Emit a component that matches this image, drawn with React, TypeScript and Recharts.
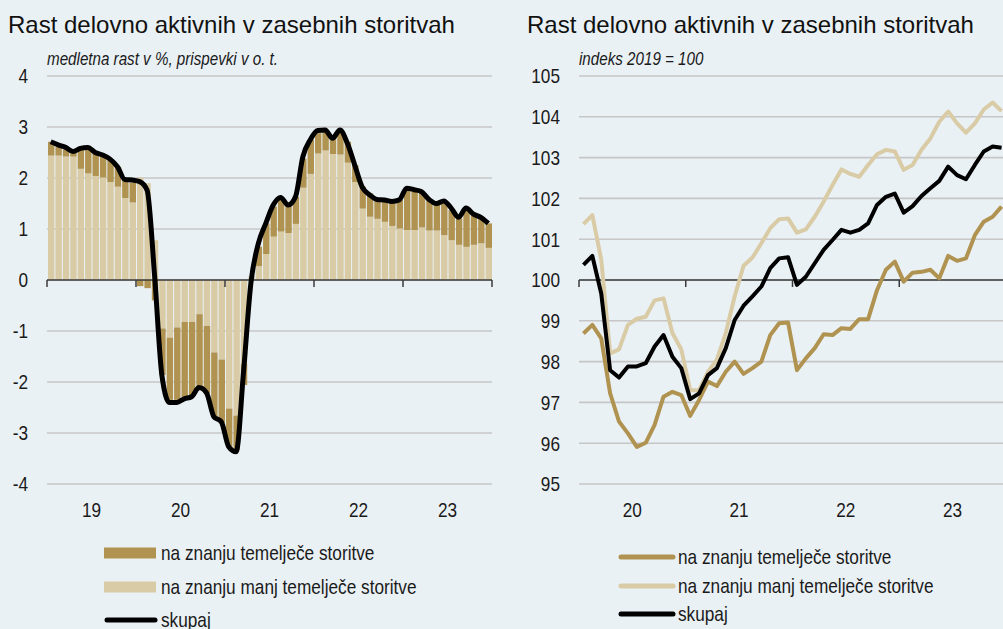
import { ComposedChart, LineChart, Bar, Line, XAxis, YAxis, CartesianGrid, ReferenceLine } from 'recharts'

const BG = '#EAF1F5'
const DARK = '#B09350'
const LIGHT = '#D9CBA5'
const AXIS = '#3a3a3a'
const GRID = '#c6c6c6'
const FONT = "'Liberation Sans', Arial, sans-serif"
const SQUEEZE = 0.82 // originalni graf uporablja ozko pisavo

const title = 'Rast delovno aktivnih v zasebnih storitvah'

// levi graf: medletna rast, mesečno jan 2019 - dec 2023
const growthYears = ['19', '20', '21', '22', '23']
const lessKnowledgeContrib = [
  2.44, 2.44, 2.42, 2.42, 2.18, 2.09, 2.04, 2.01, 1.92, 1.83, 1.61, 1.52,
  2.01, 1.9, 0.78, -0.95, -1.13, -0.93, -0.82, -0.82, -0.67, -0.9, -1.42, -1.56,
  -2.52, -2.66, -1.65, 0.07, 0.27, 0.51, 0.85, 0.95, 0.92, 1.1, 1.81, 2.08,
  2.48, 2.54, 2.47, 2.46, 2.3, 1.92, 1.4, 1.24, 1.2, 1.14, 1.06, 1.01,
  0.98, 0.98, 1.03, 0.97, 0.97, 0.88, 0.78, 0.69, 0.65, 0.69, 0.72, 0.63,
]
const knowledgeContrib = [
  0.27, 0.17, 0.14, 0.1, 0.4, 0.52, 0.44, 0.44, 0.45, 0.39, 0.37, 0.39,
  -0.12, -0.16, -0.4, -0.91, -1.22, -1.42, -1.48, -1.45, -1.45, -1.32, -1.26, -1.25,
  -0.75, -0.67, -0.41, 0, 0.38, 0.6, 0.59, 0.62, 0.55, 0.53, 0.57, 0.67,
  0.4, 0.39, 0.34, 0.45, 0.41, 0.33, 0.43, 0.46, 0.4, 0.44, 0.48, 0.56,
  0.78, 0.77, 0.68, 0.6, 0.53, 0.66, 0.59, 0.52, 0.76, 0.58, 0.51, 0.48,
]
const totalGrowth = [
  2.71, 2.65, 2.6, 2.52, 2.58, 2.6, 2.5, 2.45, 2.37, 2.22, 1.97, 1.96,
  1.93, 1.76, 0.1, -1.88, -2.4, -2.4, -2.33, -2.29, -2.11, -2.21, -2.68, -2.78,
  -3.27, -3.37, -1.8, -0.05, 0.72, 1.11, 1.47, 1.62, 1.47, 1.63, 2.42, 2.75,
  2.93, 2.94, 2.78, 2.94, 2.68, 2.25, 1.82, 1.67, 1.58, 1.57, 1.54, 1.57,
  1.8, 1.77, 1.73, 1.58, 1.5, 1.55, 1.41, 1.23, 1.41, 1.29, 1.23, 1.11,
]
const growthTicks = [-4, -3, -2, -1, 0, 1, 2, 3, 4]

// desni graf: indeks 2019 = 100, mesečno jan 2020 - dec 2023
const indexYears = ['20', '21', '22', '23']
const knowledgeIndex = [
  98.69, 98.9, 98.57, 97.22, 96.53, 96.24, 95.91, 96.01, 96.45, 97.14, 97.26, 97.18,
  96.67, 97.06, 97.51, 97.4, 97.75, 98.0, 97.7, 97.84, 98.0, 98.65, 98.94, 98.96,
  97.79, 98.08, 98.33, 98.67, 98.65, 98.82, 98.8, 99.04, 99.04, 99.75, 100.25, 100.45,
  99.96, 100.18, 100.2, 100.25, 100.04, 100.59, 100.47, 100.53, 101.1, 101.43, 101.55, 101.8,
]
const lessKnowledgeIndex = [
  101.37, 101.59, 100.5, 98.2, 98.3, 98.9, 99.05, 99.1, 99.5, 99.55, 98.7, 98.3,
  97.3, 97.3, 97.75, 98.05, 98.7, 99.6, 100.35, 100.55, 100.9, 101.27, 101.49, 101.51,
  101.16, 101.24, 101.55, 101.92, 102.33, 102.71, 102.6, 102.53, 102.82, 103.08, 103.19, 103.15,
  102.7, 102.82, 103.19, 103.47, 103.88, 104.13, 103.84, 103.61, 103.84, 104.18, 104.35, 104.14,
]
const totalIndex = [
  100.37, 100.59, 99.67, 97.79, 97.61, 97.88, 97.88, 97.96, 98.37, 98.65, 98.12, 97.84,
  97.08, 97.22, 97.67, 97.84, 98.33, 99.02, 99.37, 99.6, 99.84, 100.29, 100.53, 100.56,
  99.88, 100.08, 100.41, 100.74, 100.98, 101.23, 101.16, 101.23, 101.39, 101.84, 102.04, 102.12,
  101.65, 101.81, 102.06, 102.25, 102.43, 102.78, 102.57, 102.47, 102.82, 103.15, 103.27, 103.24,
]
const indexTicks = [95, 96, 97, 98, 99, 100, 101, 102, 103, 104, 105]

const legendLabels = ['na znanju temelječe storitve', 'na znanju manj temelječe storitve', 'skupaj']

const growthData = totalGrowth.map((v, i) => ({
  x: i + 0.5,
  less: lessKnowledgeContrib[i],
  know: knowledgeContrib[i],
  total: v,
}))
const indexData = totalIndex.map((v, i) => ({
  x: i + 0.5,
  know: knowledgeIndex[i],
  less: lessKnowledgeIndex[i],
  total: v,
}))

const TickMark = (p: any) => (
  <line x1={p.x1} y1={p.y1} x2={p.x1} y2={p.y1 + 7} stroke={AXIS} strokeWidth={1.5} />
)

// ozke oznake na oseh
const YTick = (p: any) => (
  <g transform={`translate(${p.x},${p.y})`}>
    <text transform={`scale(${SQUEEZE},1)`} textAnchor="end" dy="0.355em" fill="#1a1a1a" fontSize={21} fontFamily={FONT}>
      {p.payload.value}
    </text>
  </g>
)

const makeXTick = (labels: string[]) => (p: any) => (
  <g transform={`translate(${p.x},${p.y})`}>
    <text transform={`scale(${SQUEEZE},1)`} textAnchor="middle" dy="0.71em" fill="#1a1a1a" fontSize={21} fontFamily={FONT}>
      {labels[Math.floor(p.payload.value / 12)]}
    </text>
  </g>
)

function LeftChart() {
  const n = growthYears.length * 12
  const bounds = growthYears.map((_, i) => i * 12).concat([n])
  return (
    <ComposedChart
      width={500}
      height={530}
      data={growthData}
      stackOffset="sign"
      margin={{ top: 76, right: 8, bottom: 16, left: 0 }}
    >
      <CartesianGrid vertical={false} stroke={GRID} strokeWidth={1.6} />
      <XAxis
        type="number"
        dataKey="x"
        domain={[0, n]}
        ticks={growthYears.map((_, i) => i * 12 + 6)}
        axisLine={false}
        tickLine={false}
        tickSize={0}
        tickMargin={18}
        tick={makeXTick(growthYears)}
        height={30}
      />
      <YAxis
        domain={[-4, 4]}
        ticks={growthTicks}
        axisLine={false}
        tickLine={false}
        tickSize={0}
        tickMargin={19}
        tick={YTick}
        width={47}
      />
      <Bar dataKey="less" stackId="s" fill={LIGHT} barSize={6.4} isAnimationActive={false} />
      <Bar dataKey="know" stackId="s" fill={DARK} barSize={6.4} isAnimationActive={false} />
      <ReferenceLine y={0} stroke={AXIS} strokeWidth={1.5} />
      {bounds.map((b) => (
        <ReferenceLine key={b} segment={[{ x: b, y: 0 }, { x: b, y: -1 }]} shape={TickMark} />
      ))}
      <Line
        type="monotone"
        dataKey="total"
        stroke="#000"
        strokeWidth={5}
        strokeLinejoin="round"
        dot={false}
        isAnimationActive={false}
      />
    </ComposedChart>
  )
}

function RightChart() {
  const n = indexYears.length * 12
  const bounds = indexYears.map((_, i) => i * 12).concat([n])
  return (
    <LineChart width={510} height={530} data={indexData} margin={{ top: 76, right: 4, bottom: 16, left: 0 }}>
      <CartesianGrid vertical={false} stroke={GRID} strokeWidth={1.6} />
      <XAxis
        type="number"
        dataKey="x"
        domain={[0, n]}
        ticks={indexYears.map((_, i) => i * 12 + 6)}
        axisLine={false}
        tickLine={false}
        tickSize={0}
        tickMargin={18}
        tick={makeXTick(indexYears)}
        height={30}
      />
      <YAxis
        domain={[95, 105]}
        ticks={indexTicks}
        axisLine={false}
        tickLine={false}
        tickSize={0}
        tickMargin={19}
        tick={YTick}
        width={79}
      />
      <ReferenceLine y={100} stroke={AXIS} strokeWidth={1.5} />
      {bounds.map((b) => (
        <ReferenceLine key={b} segment={[{ x: b, y: 100 }, { x: b, y: 99 }]} shape={TickMark} />
      ))}
      <Line type="linear" dataKey="know" stroke={DARK} strokeWidth={4} strokeLinejoin="round" dot={false} isAnimationActive={false} />
      <Line type="linear" dataKey="less" stroke={LIGHT} strokeWidth={4} strokeLinejoin="round" dot={false} isAnimationActive={false} />
      <Line type="linear" dataKey="total" stroke="#000" strokeWidth={4} strokeLinejoin="round" dot={false} isAnimationActive={false} />
    </LineChart>
  )
}

const narrowText = (size: number, italic = false) => ({
  display: 'inline-block',
  fontFamily: FONT,
  fontSize: size,
  fontStyle: italic ? 'italic' : 'normal',
  color: '#1a1a1a',
  whiteSpace: 'nowrap' as const,
  transform: `scaleX(${SQUEEZE})`,
  transformOrigin: 'left center',
})

const titleStyle = (left: number) => ({
  position: 'absolute' as const,
  left,
  top: 13,
  fontFamily: FONT,
  fontSize: 24,
  lineHeight: '24px',
  color: '#111',
  whiteSpace: 'nowrap' as const,
})

export default function App() {
  const colors = [DARK, LIGHT, '#000']
  return (
    <div style={{ position: 'absolute', left: 0, top: 0, width: 1003, height: 629, overflow: 'hidden', background: BG }}>
      <div style={titleStyle(8)}>{title}</div>
      <div style={titleStyle(527)}>{title}</div>
      <div style={{ position: 'absolute', left: 47, top: 49, lineHeight: '20px' }}>
        <span style={narrowText(18.5, true)}>medletna rast v %, prispevki v o. t.</span>
      </div>
      <div style={{ position: 'absolute', left: 579, top: 49, lineHeight: '20px' }}>
        <span style={narrowText(18.5, true)}>indeks 2019 = 100</span>
      </div>
      <div style={{ position: 'absolute', left: 0, top: 0 }}>
        <LeftChart />
      </div>
      <div style={{ position: 'absolute', left: 500, top: 0 }}>
        <RightChart />
      </div>
      {legendLabels.map((label, i) => (
        <div key={'l' + i} style={{ position: 'absolute', left: 104, top: 536 + i * 33.5, height: 34, display: 'flex', alignItems: 'center' }}>
          <svg width={54} height={14} style={{ marginRight: 3 }}>
            {i < 2 ? (
              <rect x={0} y={1.5} width={52} height={11} fill={colors[i]} />
            ) : (
              <line x1={3} y1={7} x2={51} y2={7} stroke={colors[i]} strokeWidth={5} strokeLinecap="round" />
            )}
          </svg>
          <span style={narrowText(21)}>{label}</span>
        </div>
      ))}
      {legendLabels.map((label, i) => (
        <div key={'r' + i} style={{ position: 'absolute', left: 618, top: 543 + i * 28.5, height: 28, display: 'flex', alignItems: 'center' }}>
          <svg width={58} height={10} style={{ marginRight: 2 }}>
            <line x1={3} y1={5} x2={55} y2={5} stroke={colors[i]} strokeWidth={5} strokeLinecap="round" />
          </svg>
          <span style={narrowText(21)}>{label}</span>
        </div>
      ))}
    </div>
  )
}
